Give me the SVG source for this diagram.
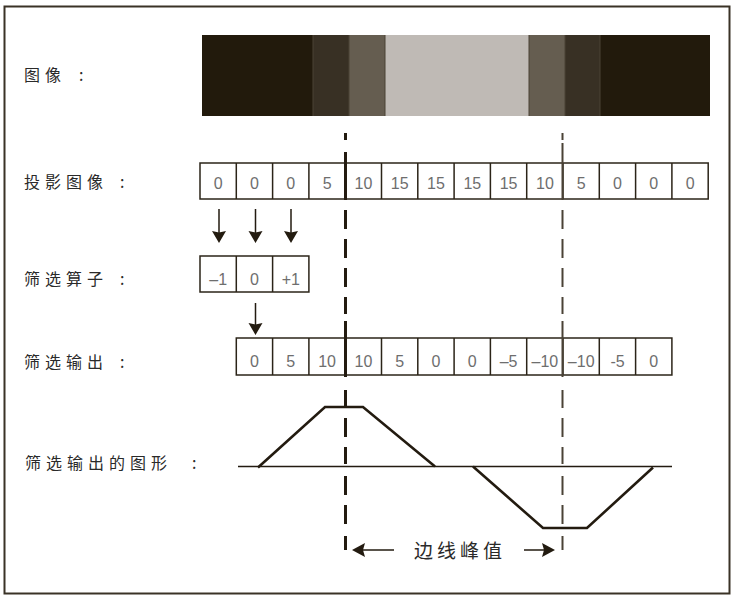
<svg xmlns="http://www.w3.org/2000/svg" width="736" height="598" viewBox="0 0 736 598">
<defs>
<style>
.lbl{font-family:"Noto Sans CJK SC","Noto Sans",sans-serif;font-size:16px;fill:#2a2a2a;letter-spacing:5px}
.num{font-family:"Liberation Sans",Arial,sans-serif;font-size:16px;fill:#6e6e6e;text-anchor:middle}
.cell{fill:#ffffff;stroke:#2b2418;stroke-width:1.5}
.div{fill:none;stroke:#2b2418;stroke-width:1.5}
.shaft{stroke:#231b10;stroke-width:1.5;fill:none}
.head{fill:#231b10}
.dashL{stroke:#231b10;stroke-width:3;fill:none}
.dashR{stroke:#4a4236;stroke-width:2;fill:none}
.curve{stroke:#231b10;stroke-width:2.6;fill:none;stroke-linejoin:miter}
</style>
<path id="ahDown" d="M-7,0 L0,1.5 L7,0 L0,12 Z"/>
<path id="dashes" d="M0,133V140M0,210V229M0,239V258M0,268V287M0,297V314M0,390V408M0,418V437M0,447V464M0,476V495M0,505V524M0,536V550"/>
</defs>
<rect x="0" y="0" width="736" height="598" fill="#ffffff"/>
<rect x="4.5" y="6.5" width="725" height="587" fill="none" stroke="#3a3226" stroke-width="2"/>

<g id="image">
<text class="lbl" x="24" y="81">图像<tspan x="79">:</tspan></text>
<rect x="202" y="35" width="111" height="81" fill="#221a0c"/>
<rect x="313" y="35" width="36" height="81" fill="#383024"/>
<rect x="349" y="35" width="36" height="81" fill="#655d50"/>
<rect x="385" y="35" width="144" height="81" fill="#bfbab5"/>
<rect x="529" y="35" width="36" height="81" fill="#655d50"/>
<rect x="565" y="35" width="35" height="81" fill="#383024"/>
<rect x="600" y="35" width="110" height="81" fill="#221a0c"/>
<path d="M313,35V116M349,35V116M385,35V116M529,35V116M565,35V116M600,35V116" stroke="#4a4234" stroke-width="1" fill="none"/>
</g>

<g id="projection">
<text class="lbl" x="24" y="187.5">投影图像<tspan x="120">:</tspan></text>
<rect class="cell" x="200" y="163" width="508.2" height="36"/>
<path class="div" d="M236.3,163V199M272.6,163V199M308.9,163V199M345.2,163V199M381.5,163V199M417.8,163V199M454.1,163V199M490.4,163V199M526.7,163V199M563,163V199M599.3,163V199M635.6,163V199M671.9,163V199"/>
<text class="num" y="188.5"><tspan x="218.2">0</tspan><tspan x="254.5">0</tspan><tspan x="290.8">0</tspan><tspan x="327.1">5</tspan><tspan x="363.4">10</tspan><tspan x="399.7">15</tspan><tspan x="436">15</tspan><tspan x="472.3">15</tspan><tspan x="508.6">15</tspan><tspan x="544.9">10</tspan><tspan x="581.2">5</tspan><tspan x="617.5">0</tspan><tspan x="653.8">0</tspan><tspan x="690.1">0</tspan></text>
</g>

<g id="operator">
<text class="lbl" x="24" y="285">筛选算子<tspan x="120">:</tspan></text>
<rect class="cell" x="200" y="256" width="108.9" height="36"/>
<path class="div" d="M236.3,256V292M272.6,256V292"/>
<text class="num" y="285"><tspan x="218.2">–1</tspan><tspan x="254.5">0</tspan><tspan x="290.8">+1</tspan></text>
</g>

<g id="output">
<text class="lbl" x="24" y="368">筛选输出<tspan x="120">:</tspan></text>
<rect class="cell" x="236.3" y="338" width="435.6" height="37"/>
<path class="div" d="M272.6,338V375M308.9,338V375M345.2,338V375M381.5,338V375M417.8,338V375M454.1,338V375M490.4,338V375M526.7,338V375M563,338V375M599.3,338V375M635.6,338V375"/>
<text class="num" y="366.5"><tspan x="254.5">0</tspan><tspan x="290.8">5</tspan><tspan x="327.1">10</tspan><tspan x="363.4">10</tspan><tspan x="399.7">5</tspan><tspan x="436">0</tspan><tspan x="472.3">0</tspan><tspan x="508.6">–5</tspan><tspan x="544.9">–10</tspan><tspan x="581.2">–10</tspan><tspan x="617.5">-5</tspan><tspan x="653.8">0</tspan></text>
</g>

<g id="graph">
<text class="lbl" x="25" y="468.5">筛选输出的图形<tspan x="192">:</tspan></text>
<line x1="238" y1="466.5" x2="672" y2="466.5" stroke="#231b10" stroke-width="1.5"/>
<polyline class="curve" points="258,467.5 325,407 363,407 435,466.5"/>
<polyline class="curve" points="473,466.5 543,528 587,528 653,467.5"/>
</g>

<g id="peak">
<text class="lbl" x="414" y="558" style="font-size:19px;letter-spacing:4px">边线峰值</text>
</g>

<g id="connectors">
<use href="#dashes" class="dashL" x="345.5"/>
<path class="dashL" d="M345.5,152V200M345.5,321V377"/>
<use href="#dashes" class="dashR" x="562.5"/>
<path class="dashR" d="M562.5,143V200M562.5,321V377"/>
<path class="shaft" d="M219,209V233M255.5,209V233M291,209V233M255.5,303V325"/>
<use href="#ahDown" class="head" x="219" y="231"/>
<use href="#ahDown" class="head" x="255.5" y="231"/>
<use href="#ahDown" class="head" x="291" y="231"/>
<use href="#ahDown" class="head" x="255.5" y="323"/>
<path class="shaft" d="M362,550H394M524,550H544"/>
<path class="head" d="M352,550L365,543L363,550L365,557Z"/>
<path class="head" d="M555,550L542,543L544,550L542,557Z"/>
</g>
</svg>
